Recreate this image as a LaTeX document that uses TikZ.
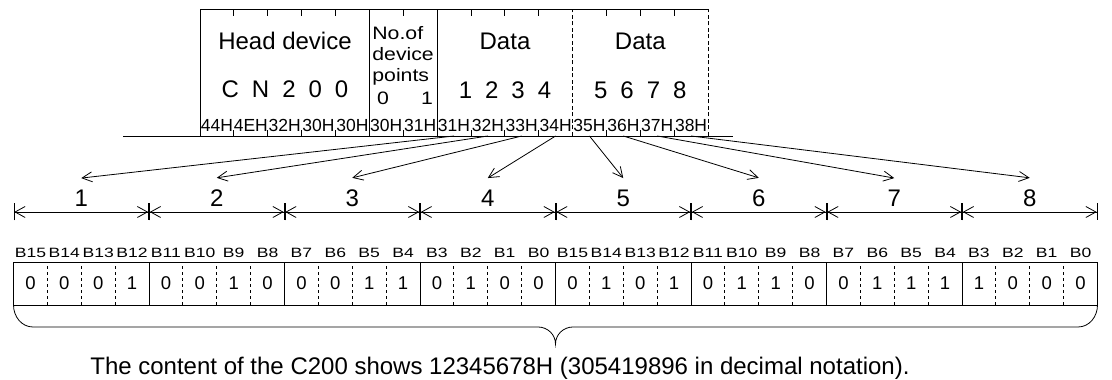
\documentclass[tikz,border=0pt]{standalone}
\usepackage{fontspec}
\setmainfont{Liberation Sans}
\newfontfamily\widesans[FakeStretch=1.3]{Liberation Sans}
\newfontfamily\semiwide[FakeStretch=1.18]{Liberation Sans}
\usetikzlibrary{arrows.meta}

\newcommand{\gap}{\hspace{13pt}}

\begin{document}
\begin{tikzpicture}[
        x=1pt, y=1pt,
        line width=0.8pt,
        every node/.style={inner sep=0pt},
        big/.style={font=\fontsize{24}{26}\selectfont},
        hex/.style={font=\fontsize{17.5}{19}\selectfont},
        small/.style={font=\semiwide\fontsize{18}{20}\selectfont},
        bitname/.style={font=\widesans\fontsize{13.5}{15}\selectfont},
        bitval/.style={font=\fontsize{18.5}{20}\selectfont},
        dashline/.style={dash pattern=on 3pt off 3pt},
        framedash/.style={dash pattern=on 4pt off 2.5pt},
        arrow/.style={-{Straight Barb[length=10pt, width=10pt]}},
        dimline/.style={{Bar[width=17pt]Straight Barb[length=10pt, width=11pt]}-{Straight Barb[length=10pt, width=11pt]Bar[width=17pt]}}
    ]
    \useasboundingbox (0,0) rectangle (1112,380);

    % Frame of the command
    \coordinate (bl) at (123,244);
    \coordinate (br) at (733,244);
    \draw (bl) -- (br);
    \draw (200,244) -- (200,370.5) -- (708,370.5);
    \draw (369.3,244) -- (369.3,370.5);
    \draw (437.1,244) -- (437.1,370.5);
    \draw[framedash] (572.6,244) -- (572.6,370.5);
    \draw[framedash] (708,244) -- (708,370.5);
    \foreach \i in {1,2,3,4,6,8,9,10,12,13,14} {
        \draw ({200+\i*33.867},370.5) -- ++(0,-7);
        \draw ({200+\i*33.867},244) -- ++(0,6);
    }

    % Nodes
    \node[big, anchor=base] (head) at (285,330) {Head device};
    \node[big, anchor=base] (device) at (285,282) {C\gap N\gap 2\gap 0\gap 0};
    \node[small, anchor=base west] (no) at (372,340) {No.of};
    \node[small, anchor=base west] (dev) at (372,319) {device};
    \node[small, anchor=base west] (pts) at (372,298) {points};
    \node[small, anchor=base] (p0) at (383,275) {0};
    \node[small, anchor=base] (p1) at (427,275) {1};
    \node[big, anchor=base] (data1) at (505,330) {Data};
    \node[big, anchor=base] (val1) at (505,281) {1\gap 2\gap 3\gap 4};
    \node[big, anchor=base] (data2) at (640.3,330) {Data};
    \node[big, anchor=base] (val2) at (640.3,281) {5\gap 6\gap 7\gap 8};
    \foreach \t [count=\i] in {44H,4EH,32H,30H,30H,30H,31H,31H,32H,33H,34H,35H,36H,37H,38H}
        \node[hex, anchor=base] (h\i) at ({200+(\i-0.5)*33.867},248.5) {\t};

    % Digits and their spans
    \foreach \k in {0,...,8}
        \coordinate (d\k) at ({13.5+\k*135.5},168);
    \foreach \k in {1,...,8}
        \node[big, anchor=base] (n\k) at ({13.5+(\k-0.5)*135.5},173) {\k};
    \foreach \k [remember=\k as \p (initially 0)] in {1,...,8}
        \draw[dimline] (d\p) -- (d\k);

    % Bits
    \draw (13.5,75) rectangle (1097.5,118);
    \foreach \j in {1,...,31} {
        \pgfmathtruncatemacro\r{mod(\j,4)}
        \ifnum\r=0
            \draw ({13.5+\j*33.875},75) -- ++(0,43);
        \else
            \draw[dashline] ({13.5+\j*33.875},75) -- ++(0,43);
        \fi
    }
    \foreach \v [count=\j] in {0,0,0,1,0,0,1,0,0,0,1,1,0,1,0,0,0,1,0,1,0,1,1,0,0,1,1,1,1,0,0,0} {
        \pgfmathtruncatemacro\bn{mod(32-\j,16)}
        \node[bitname, anchor=base] (bn\j) at ({13.5+(\j-0.5)*33.875},122.5) {B\bn};
        \node[bitval, anchor=base] (b\j) at ({13.5+(\j-0.5)*33.875},90) {\v};
    }

    % Brace and note
    \draw (13.5,75) to[out=-90, in=180] (33,53) -- (538,53)
        to[out=0, in=90] (555.5,36) to[out=90, in=180] (573,53)
        -- (1078,53) to[out=0, in=-90] (1097.5,75);
    \node[big, anchor=base] (note) at (500,5) {The content of the C200 shows 12345678H (305419896 in decimal notation).};

    % Edges
    \foreach \i/\k in {8/1,9/2,10/3,11/4,12/5,13/6,14/7,15/8}
        \draw[arrow] (h\i |- bl) -- ([yshift=12pt]n\k.north);
\end{tikzpicture}
\end{document}
